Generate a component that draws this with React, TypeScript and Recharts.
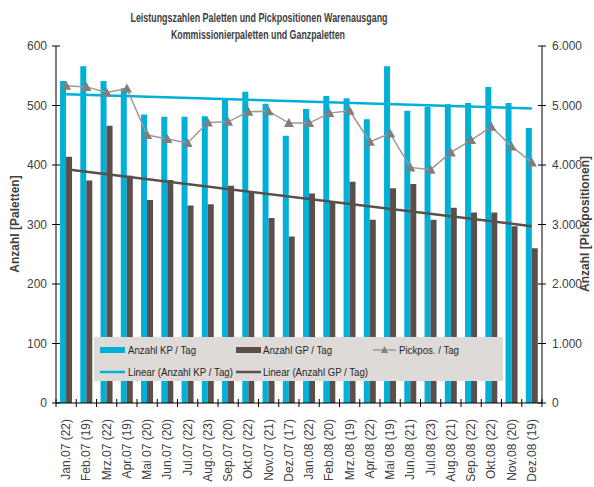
import { ComposedChart, Bar, Line, XAxis, YAxis, ReferenceLine } from 'recharts';

const months = [
  'Jan.07 (22)', 'Feb.07 (19)', 'Mrz.07 (22)', 'Apr.07 (19)', 'Mai 07 (20)', 'Jun.07 (20)',
  'Jul.07 (22)', 'Aug.07 (23)', 'Sep.07 (20)', 'Okt.07 (22)', 'Nov.07 (21)', 'Dez.07 (17)',
  'Jan.08 (22)', 'Feb.08 (20)', 'Mrz.08 (19)', 'Apr.08 (22)', 'Mai 08 (19)', 'Jun.08 (21)',
  'Jul.08 (23)', 'Aug.08 (21)', 'Sep.08 (22)', 'Okt.08 (22)', 'Nov.08 (20)', 'Dez.08 (19)',
];
const kpPerDay = [541, 566, 541, 529, 485, 481, 481, 482, 511, 523, 503, 449, 494, 516, 512, 477, 566, 491, 498, 502, 504, 531, 504, 462];
const gpPerDay = [414, 374, 466, 382, 341, 375, 332, 334, 365, 356, 311, 280, 352, 338, 372, 308, 361, 368, 308, 328, 320, 320, 297, 260];
const pickposPerDay = [5330, 5313, 5218, 5285, 4503, 4436, 4369, 4715, 4726, 4894, 4905, 4704, 4704, 4872, 4910, 4391, 4530, 3960, 3922, 4212, 4419, 4642, 4312, 4044];
// trend lines (start / end)
const kpTrendEnds = [519, 495];
const gpTrendEnds = [393, 297];
const leftTicks = [0, 100, 200, 300, 400, 500, 600];
const rightTicks = [0, 1000, 2000, 3000, 4000, 5000, 6000];

const data = months.map((m, i) => ({
  month: m,
  kp: kpPerDay[i],
  gp: gpPerDay[i],
  pick: pickposPerDay[i],
}));

const KP_COLOR = '#00b0d6';
const GP_COLOR = '#5b4f4c';
const PICK_LINE = '#a39794';
const PICK_MARK = '#7f7f7f';
const TEXT = '#404040';
const FONT = 'Liberation Sans, Arial, sans-serif';
const BAND = 486 / 24;

const fmtDe = (v: number) => v.toLocaleString('de-DE');

const LeftTick = ({ x, y, payload }: any) => (
  <g>
    <line x1={x - 4} x2={x + 4} y1={y} y2={y} stroke="#000" />
    <text x={x - 9} y={y + 4} textAnchor="end" fontSize={12} fill={TEXT} fontFamily={FONT}>
      {payload.value}
    </text>
  </g>
);

const RightTick = ({ x, y, payload }: any) => (
  <g>
    <line x1={x - 4} x2={x + 4} y1={y} y2={y} stroke="#000" />
    <text x={x + 10} y={y + 4} textAnchor="start" fontSize={12} fill={TEXT} fontFamily={FONT}>
      {fmtDe(payload.value)}
    </text>
  </g>
);

const MonthTick = ({ x, y, payload, index }: any) => (
  <g>
    <line x1={x - BAND / 2} x2={x - BAND / 2} y1={y - 4} y2={y + 4} stroke="#000" />
    {index === months.length - 1 && (
      <line x1={x + BAND / 2} x2={x + BAND / 2} y1={y - 4} y2={y + 4} stroke="#000" />
    )}
    <text
      x={x}
      y={y + 16}
      transform={`rotate(-90, ${x}, ${y + 16})`}
      textAnchor="end"
      dy={4}
      fontSize={12}
      fill={TEXT}
      fontFamily={FONT}
    >
      {payload.value}
    </text>
  </g>
);

const Triangle = (props: any) => {
  const { cx, cy, index } = props;
  return <path key={index} d={`M${cx},${cy - 5} L${cx + 5},${cy + 4} L${cx - 5},${cy + 4} Z`} fill={PICK_MARK} />;
};

const LegendBox = () => (
  <svg width={409} height={44} style={{ position: 'absolute', left: 94, top: 337, background: '#dedad7' }}>
    <g fontFamily={FONT} fontSize={11} fill="#262626">
      <rect x={6} y={10} width={25} height={6} fill={KP_COLOR} />
      <text x={34} y={17} textLength={68} lengthAdjust="spacingAndGlyphs">Anzahl KP / Tag</text>
      <rect x={142} y={10} width={25} height={6} fill={GP_COLOR} />
      <text x={169} y={17} textLength={69} lengthAdjust="spacingAndGlyphs">Anzahl GP / Tag</text>
      <line x1={279} x2={302} y1={13} y2={13} stroke={PICK_LINE} strokeWidth={1.5} />
      <path d="M290.5,9 L294,16 L287,16 Z" fill={PICK_MARK} />
      <text x={305} y={17} textLength={60} lengthAdjust="spacingAndGlyphs">Pickpos. / Tag</text>
      <line x1={6} x2={31} y1={35} y2={35} stroke={KP_COLOR} strokeWidth={2.5} />
      <text x={34} y={39} textLength={105} lengthAdjust="spacingAndGlyphs">Linear (Anzahl KP / Tag)</text>
      <line x1={142} x2={167} y1={35} y2={35} stroke={GP_COLOR} strokeWidth={2.5} />
      <text x={169} y={39} textLength={105} lengthAdjust="spacingAndGlyphs">Linear (Anzahl GP / Tag)</text>
    </g>
  </svg>
);

const Titles = () => (
  <svg width={594} height={487} style={{ position: 'absolute', left: 0, top: 0, pointerEvents: 'none' }}>
    <g fontFamily={FONT} fontWeight="bold" fill={TEXT}>
      <text x={259} y={22} fontSize={12} textAnchor="middle" textLength={257} lengthAdjust="spacingAndGlyphs">
        Leistungszahlen Paletten und Pickpositionen Warenausgang
      </text>
      <text x={258} y={39} fontSize={12} textAnchor="middle" textLength={174} lengthAdjust="spacingAndGlyphs">
        Kommissionierpaletten und Ganzpaletten
      </text>
      <text x={19} y={224} fontSize={12} textAnchor="middle" transform="rotate(-90, 19, 224)">
        Anzahl [Paletten]
      </text>
      <text x={589} y={224} fontSize={12} textAnchor="middle" transform="rotate(-90, 589, 224)">
        Anzahl [Pickpositionen]
      </text>
    </g>
  </svg>
);

export default function App() {
  return (
    <div style={{ position: 'absolute', left: 0, top: 0, width: 594, height: 487, background: '#fff' }}>
      <ComposedChart
        width={594}
        height={487}
        data={data}
        margin={{ top: 46, right: 0, bottom: 0, left: 0 }}
        barCategoryGap="20%"
        barGap={0}
      >
        <XAxis
          dataKey="month"
          height={84}
          interval={0}
          axisLine={{ stroke: '#000' }}
          tickLine={false}
          tickSize={0}
          tickMargin={0}
          tick={<MonthTick />}
        />
        <YAxis
          yAxisId="left"
          width={56}
          domain={[0, 600]}
          ticks={leftTicks}
          axisLine={{ stroke: '#000' }}
          tickLine={false}
          tickSize={0}
          tickMargin={0}
          tick={<LeftTick />}
        />
        <YAxis
          yAxisId="right"
          orientation="right"
          width={52}
          domain={[0, 6000]}
          ticks={rightTicks}
          axisLine={{ stroke: '#000' }}
          tickLine={false}
          tickSize={0}
          tickMargin={0}
          tick={<RightTick />}
        />
        <Bar yAxisId="left" dataKey="kp" fill={KP_COLOR} isAnimationActive={false} />
        <Bar yAxisId="left" dataKey="gp" fill={GP_COLOR} isAnimationActive={false} />
        <ReferenceLine
          yAxisId="left"
          segment={[
            { x: months[0], y: kpTrendEnds[0] },
            { x: months[months.length - 1], y: kpTrendEnds[1] },
          ]}
          stroke={KP_COLOR}
          strokeWidth={2.5}
        />
        <ReferenceLine
          yAxisId="left"
          segment={[
            { x: months[0], y: gpTrendEnds[0] },
            { x: months[months.length - 1], y: gpTrendEnds[1] },
          ]}
          stroke={GP_COLOR}
          strokeWidth={2.5}
        />
        <Line
          yAxisId="right"
          dataKey="pick"
          stroke={PICK_LINE}
          strokeWidth={1.5}
          dot={Triangle}
          activeDot={false}
          isAnimationActive={false}
        />
      </ComposedChart>
      <LegendBox />
      <Titles />
    </div>
  );
}
